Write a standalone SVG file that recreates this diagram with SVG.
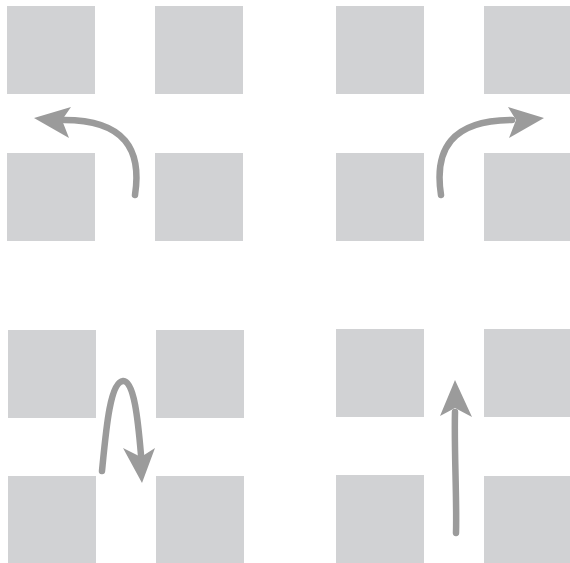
<svg xmlns="http://www.w3.org/2000/svg" width="570" height="563" viewBox="0 0 570 563">
<style>
.sq{fill:#d1d2d4}
.shaft{fill:none;stroke:#9b9b9b;stroke-width:6.5;stroke-linecap:round;stroke-linejoin:round}
.head{fill:#9b9b9b}
</style>
<rect width="570" height="563" fill="#ffffff"/>
<g id="panel1">
<rect id="p1a" class="sq" x="7" y="6" width="88" height="88"/>
<rect id="p1b" class="sq" x="155" y="6" width="88" height="88"/>
<rect id="p1c" class="sq" x="7" y="153" width="88" height="88"/>
<rect id="p1d" class="sq" x="155" y="153" width="88" height="88"/>
</g>
<g id="panel2">
<rect id="p2a" class="sq" x="336" y="6" width="88" height="88"/>
<rect id="p2b" class="sq" x="484" y="6" width="88" height="88"/>
<rect id="p2c" class="sq" x="336" y="153" width="88" height="88"/>
<rect id="p2d" class="sq" x="484" y="153" width="88" height="88"/>
</g>
<g id="panel3">
<rect id="p3a" class="sq" x="8" y="330" width="88" height="88"/>
<rect id="p3b" class="sq" x="156" y="330" width="88" height="88"/>
<rect id="p3c" class="sq" x="8" y="476" width="88" height="88"/>
<rect id="p3d" class="sq" x="156" y="476" width="88" height="88"/>
</g>
<g id="panel4">
<rect id="p4a" class="sq" x="336" y="329" width="88" height="88"/>
<rect id="p4b" class="sq" x="484" y="329" width="88" height="88"/>
<rect id="p4c" class="sq" x="336" y="475" width="88" height="88"/>
<rect id="p4d" class="sq" x="484" y="476" width="88" height="88"/>
</g>
<g id="connectors">
<path class="shaft" d="M135,195 C142,150 125,120 64,120"/>
<polygon class="head" points="34,118 71,107 62,120 69,138"/>
<path class="shaft" d="M441,195 C434,150 451,120 512,120"/>
<polygon class="head" points="544,118 508,107 516,120 509,138"/>
<path class="shaft" d="M102,471 C106,430 110,382 123,381 C134,380 138,420 141,455"/>
<polygon class="head" points="142,483 123,448 141,457 155,448"/>
<path class="shaft" d="M456,533 C457,500 454,450 455,412"/>
<polygon class="head" points="455,380 440,416 455,408 472,417"/>
</g>
</svg>
